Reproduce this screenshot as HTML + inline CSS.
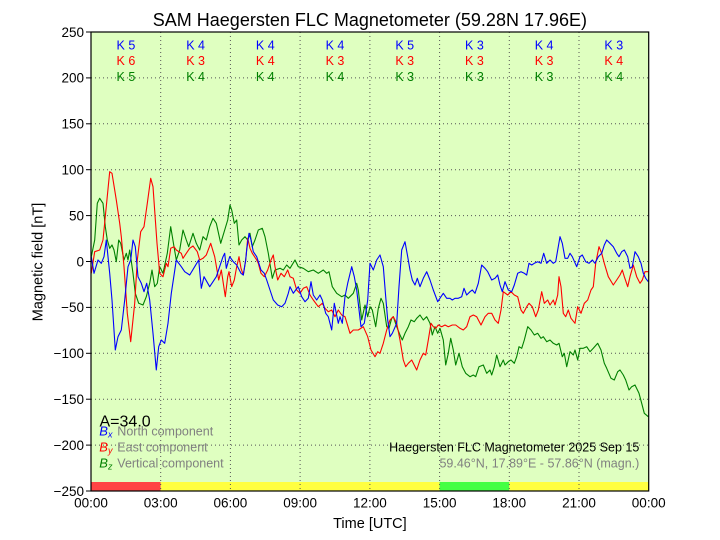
<!DOCTYPE html>
<html><head><meta charset="utf-8"><style>
html,body{margin:0;padding:0;background:#fff;}
svg{display:block;}
text{font-family:"Liberation Sans",Arial,sans-serif;}
</style></head><body>
<svg width="720" height="540" viewBox="0 0 720 540" xmlns="http://www.w3.org/2000/svg">
<rect x="0" y="0" width="720" height="540" fill="#fff"/>
<!-- plot background -->
<rect x="91" y="32" width="557.7" height="459" fill="#dfffc0"/>
<!-- color bar -->
<rect x="91" y="482" width="69.7" height="9" fill="#ff4444"/>
<rect x="160.7" y="482" width="278.9" height="9" fill="#ffff40"/>
<rect x="439.6" y="482" width="69.7" height="9" fill="#44ff44"/>
<rect x="509.3" y="482" width="139.4" height="9" fill="#ffff40"/>
<!-- grid -->
<g stroke="#555" stroke-width="1" stroke-dasharray="1,3" fill="none">
<line x1="91" y1="77.9" x2="648.7" y2="77.9"/>
<line x1="91" y1="123.8" x2="648.7" y2="123.8"/>
<line x1="91" y1="169.7" x2="648.7" y2="169.7"/>
<line x1="91" y1="215.6" x2="648.7" y2="215.6"/>
<line x1="91" y1="261.5" x2="648.7" y2="261.5"/>
<line x1="91" y1="307.4" x2="648.7" y2="307.4"/>
<line x1="91" y1="353.3" x2="648.7" y2="353.3"/>
<line x1="91" y1="399.2" x2="648.7" y2="399.2"/>
<line x1="91" y1="445.1" x2="648.7" y2="445.1"/>
<line x1="160.7" y1="32" x2="160.7" y2="491"/>
<line x1="230.4" y1="32" x2="230.4" y2="491"/>
<line x1="300.1" y1="32" x2="300.1" y2="491"/>
<line x1="369.9" y1="32" x2="369.9" y2="491"/>
<line x1="439.6" y1="32" x2="439.6" y2="491"/>
<line x1="509.3" y1="32" x2="509.3" y2="491"/>
<line x1="579.0" y1="32" x2="579.0" y2="491"/>
</g>
<!-- series -->
<g fill="none" stroke-width="1.1" stroke-linejoin="round">
<polyline stroke="#008000" points="91.3,256.7 94.7,240 97.3,203.3 99.7,198.3 103,203.3 105.3,226.7 107.3,240 109.7,248.3 112,245 114,250 116.3,261.7 118.7,240 120.7,243.3 124,260 126.3,253.3 128,260 129.7,250 133,273.3 135.3,293.3 138.7,303.3 143,305 146.3,296.7 149.7,283.3 152,270 154.7,286.7 157.3,283.3 159.7,266.7 163,273.3 167.3,253.3 170.7,226.7 174,246.7 176.3,260 179.7,250 183,230 186.3,240 188.7,246.7 193,233.3 196.3,243.3 199.7,250 203,236.7 206.3,240 209.7,226.7 213,218.3 216.3,223.3 220.7,243.3 224.7,230 227.7,220 230,205 231.7,210 234.3,223.3 236.7,220 239,245 241.7,240 245,236.7 247.7,240 250,233.3 252.3,246.7 255,240 258.3,230 262.3,228.3 265,236.7 268.3,253.3 272.3,278.3 275,270 280,268.3 283.3,270 286.7,265 290,268.3 295,260 298.3,266.7 303.3,268.3 308.3,271.7 313.3,270 318.3,273.3 323.3,270 326.7,273.3 329,271.7 332.3,286.7 336.7,293.3 341.7,296.7 345,295 348.3,298.3 353.3,293.3 356.7,283.3 358.3,290 361.7,320 365,305 367.7,316.7 370,306.7 372.3,310 375.7,326.7 378.3,308.3 381,298.3 383.3,303.3 386.7,326.7 389,328.3 391.7,318.3 393.3,316.7 396.7,326.7 400,335 402.3,340 405,333.3 408.3,326.7 411,320 414.3,321.7 416.7,318.3 420,315 423.3,320 426.7,316.7 430,323.3 432.3,335 435,326.7 437.7,333.3 440,328.3 443.3,340 445.7,365 448.3,353.3 450.7,338.3 453.3,350 455.7,365 459,353.3 462.3,366.7 465.7,373.3 470,376.7 473.3,375 475.7,376.7 479,366.7 483.3,365 486.7,373.3 490,370 491.7,375 494.3,366.7 496.7,355 500,366.7 503.3,360 505,365 508.3,361.7 511,360 514.3,363.3 516.7,356.7 519,346.7 521.7,348.3 524.3,340 527.7,326.7 531,330 534.3,335 537.7,333.3 541,338.3 543.3,336.7 546.7,341.7 550,340 553.3,343.3 556.7,345 559,343.3 562.3,356.7 564.3,353.3 566.7,366.7 570,351.7 573.3,355 575,350 577.7,360 580,348.3 583.3,348.3 586.7,346.7 590,351.7 593.3,348.3 597.7,343.3 601,350 604.3,363.3 606.7,368.3 611,378.3 614.3,380 617.7,371.7 620,370 623.3,375 625.7,380 629,390 631.7,386.7 635,385 639,393.3 641.7,403.3 644.3,413.3 648.3,416.7"/>
<polyline stroke="#ff0000" points="91.3,273.3 94.7,251.7 99.7,250 103,240 109.7,171.7 112,173.3 114.7,190 116.3,200 119.7,223.3 121.3,236.7 124,266.7 127.3,313.3 130.7,341.7 134.7,303.3 137.3,260 140.7,231.7 144,226.7 147.3,203.3 150.7,178.3 153,186.7 157,243.3 159.7,273.3 163,276.7 166.3,263.3 168,266.7 170.7,248.3 174,246.7 176.3,250 181.3,253.3 183,258.3 186.3,253.3 189.7,248.3 193,246 197.3,251.7 199.7,260 203,258.3 206.3,255 210.7,243.3 214.7,256.7 218.7,280 221.3,270 225.3,296.7 227.7,276.7 229,271.7 231.7,286.7 234.3,280 236.7,266.7 239,256.7 241,268.3 243.3,275 245.7,260 247.7,238.3 250,248.3 252.3,253.3 256.7,260 258.3,263.3 261,273.3 264.3,276.7 267.7,270 271,260 273.3,255 275,266.7 277.7,280 281,273.3 284.3,276.7 287.7,270 290,276.7 293.3,278.3 296.7,290 300,293.3 303.3,288.3 306.7,286.7 310,295 313.3,300 318.3,306.7 322.3,303.3 325,308.3 328.3,311.7 331.7,310 335,316.7 338.3,310 341.7,315 345,316.7 350,333.3 353.3,330 358.3,330 363.3,326.7 367.7,336.7 371,350 375,356.7 377.7,351.7 380,353.3 383.3,343.3 386.7,330 390,320 393.3,316.7 396.7,323.3 400,340 403.3,360 405.7,366.7 408.3,363.3 411.7,360 416.7,370 420,360 423.3,353.3 425.7,355 428.3,340 431,323.3 433.3,326.7 435.7,328.3 438.3,325 441.7,326.7 445,325 448.3,326.7 452.3,325 455.7,325 460,328.3 463.3,330 466.7,326.7 470,316.7 473.3,315 476.7,316.7 481,325 485,316.7 488.3,313.3 491.7,313.3 495,320 498.3,323.3 501,310 503.3,291.7 507.7,295 511,291.7 514.3,295 517.7,296.7 521,310 523.3,313.3 526.7,306.7 529,303.3 532.3,306.7 535.7,316.7 538.3,310 541.7,291.7 544.3,303.3 547.7,300 550,305 553.3,300 555,305 557.7,295 559,276.7 561,286.7 563.3,313.3 565.7,316.7 568.3,310 571,318.3 575,323.3 577.7,306.7 581,313.3 584.3,303.3 587.7,300 591,290 593.3,286.7 595.7,263.3 599,246.7 601.7,253.3 604.3,263.3 608.3,276.7 613.3,285 616.7,280 620,275 622.3,270 624.3,276.7 627.7,286.7 630,276.7 633.3,265 636.7,276.7 640,283.3 642.3,280 645,271.7 648.3,271.7"/>
<polyline stroke="#0000ff" points="91.3,256.7 94,273.3 98,260 101.3,263.3 104,256.7 106.3,240 109.7,273.3 112,300 115.3,350 118,336.7 121.3,330 124.7,300 128,266.7 130.7,260 133,240 135.3,246.7 138,276.7 141.3,283.3 144,291.7 146.7,283.3 149.7,300 153,333.3 156.3,370 158.7,346.7 161.3,340 164.7,343.3 168,323.3 171.3,293.3 176.3,260 181.3,266.7 184.7,271.7 189.7,275 194.7,266.7 198.7,260 201.3,288.3 204,276.7 209.7,286.7 216.3,276.7 223,256.7 224.7,253.3 226.3,268.3 229.7,256.7 233.3,261.7 236.7,265 241,273.3 243.3,275 245.7,260 246.7,250 249,233.3 251,240 253.3,251.7 256.7,256.7 261,270 264.3,273.3 266.7,280 270,290 273.3,300 277.7,305 281.7,306.7 285,303.3 288.3,293.3 290,286.7 293.3,293.3 295.7,290 298.3,286.7 301.7,296.7 305,301.7 308.3,298.3 311,281.7 313.3,295 316.7,300 320,295 322.3,300 325.7,313.3 328.3,316.7 331.7,330 334.3,303.3 338.3,323.3 340,316.7 342.3,323.3 345,296.7 347.7,283.3 351.7,266.7 354.3,276.7 356.7,290 361,326.7 364.3,323.3 367.7,300 370,263.3 373.3,270 376.7,260 380,255 383.3,266.7 385.7,296.7 387.7,320 390,336.7 392.3,333.3 396.7,323.3 399,286.7 401.7,250 405,241.7 407.7,256.7 410,270 412.3,280 415,285 417.3,278.3 420,286.7 423.3,278.3 426.7,271.7 430,280 433.3,290 437.7,301.7 441,296.7 443.3,293.3 446.7,298.3 450,298.3 452.3,300 455,298.3 458.3,298.3 461.7,296.7 464,288.3 466.7,295 470,291.7 472.3,290 475,293.3 478.3,283.3 481.7,265 485,268.3 487.7,271.7 491.7,280 495,278.3 497.7,275 500,285 502.3,291.7 505,281.7 508.3,290 511.7,291.7 514.3,285 517.7,273.3 521,271.7 524.3,273.3 526.7,275 529,263.3 531.7,265 534.3,263.3 537.7,261.7 541,263.3 543.7,253.3 546.7,263.3 550,260 553.3,263.3 555.7,261.7 560,236.7 562.3,243.3 565,258.3 567.7,258.3 570,253.3 572.3,256.7 576.7,266.7 580,256.7 582.3,255 585.7,261.7 589,263.3 592.3,260 595,263.3 598.3,256.7 601.7,253.3 604.3,245 606.7,240 610,243.3 613.3,246.7 616.7,253.3 619,256.7 621.7,251.7 624.3,250 627.7,256.7 630,268.3 632.3,266.7 635,251.7 638.3,256.7 641,263.3 643.3,273.3 645.7,278.3 648.3,281.7"/>
</g>
<!-- K labels -->
<g font-size="12.5" text-anchor="middle">
<g fill="#0000ff">
<text x="125.9" y="49.3">K 5</text><text x="195.6" y="49.3">K 4</text><text x="265.3" y="49.3">K 4</text><text x="335" y="49.3">K 4</text><text x="404.7" y="49.3">K 5</text><text x="474.4" y="49.3">K 3</text><text x="544.1" y="49.3">K 4</text><text x="613.8" y="49.3">K 3</text>
</g>
<g fill="#ff0000">
<text x="125.9" y="65.2">K 6</text><text x="195.6" y="65.2">K 3</text><text x="265.3" y="65.2">K 4</text><text x="335" y="65.2">K 3</text><text x="404.7" y="65.2">K 3</text><text x="474.4" y="65.2">K 3</text><text x="544.1" y="65.2">K 3</text><text x="613.8" y="65.2">K 4</text>
</g>
<g fill="#008000">
<text x="125.9" y="81">K 5</text><text x="195.6" y="81">K 4</text><text x="265.3" y="81">K 4</text><text x="335" y="81">K 4</text><text x="404.7" y="81">K 3</text><text x="474.4" y="81">K 3</text><text x="544.1" y="81">K 3</text><text x="613.8" y="81">K 4</text>
</g>
</g>
<!-- legend -->
<text x="99.5" y="426.5" font-size="16" fill="#000">A=34.0</text>
<g font-size="12.5">
<text x="99.3" y="435.7" fill="#0000ff" font-family="Liberation Serif,serif" font-style="italic" font-size="13">B<tspan font-size="9" dy="2">x</tspan></text>
<text x="117.3" y="435.7" fill="#808080">North component</text>
<text x="99.3" y="451.6" fill="#ff0000" font-family="Liberation Serif,serif" font-style="italic" font-size="13">B<tspan font-size="9" dy="2">y</tspan></text>
<text x="117.3" y="451.6" fill="#808080">East component</text>
<text x="99.3" y="467.5" fill="#008000" font-family="Liberation Serif,serif" font-style="italic" font-size="13">B<tspan font-size="9" dy="2">z</tspan></text>
<text x="117.3" y="467.5" fill="#808080">Vertical component</text>
<text x="639.3" y="451.7" text-anchor="end" fill="#000">Haegersten FLC Magnetometer 2025 Sep 15</text>
<text x="639.3" y="467.5" text-anchor="end" fill="#808080">59.46°N, 17.89°E - 57.86°N (magn.)</text>
</g>
<!-- axes frame -->
<rect x="91" y="32" width="557.7" height="459" fill="none" stroke="#000" stroke-width="1.2"/>
<!-- y ticks -->
<g stroke="#000" stroke-width="1">
<line x1="86" y1="32" x2="91" y2="32"/>
<line x1="86" y1="77.9" x2="91" y2="77.9"/>
<line x1="86" y1="123.8" x2="91" y2="123.8"/>
<line x1="86" y1="169.7" x2="91" y2="169.7"/>
<line x1="86" y1="215.6" x2="91" y2="215.6"/>
<line x1="86" y1="261.5" x2="91" y2="261.5"/>
<line x1="86" y1="307.4" x2="91" y2="307.4"/>
<line x1="86" y1="353.3" x2="91" y2="353.3"/>
<line x1="86" y1="399.2" x2="91" y2="399.2"/>
<line x1="86" y1="445.1" x2="91" y2="445.1"/>
<line x1="86" y1="491" x2="91" y2="491"/>
</g>
<g font-size="13.5" text-anchor="end" fill="#000">
<text x="84" y="36.8">250</text>
<text x="84" y="82.7">200</text>
<text x="84" y="128.6">150</text>
<text x="84" y="174.5">100</text>
<text x="84" y="220.4">50</text>
<text x="84" y="266.3">0</text>
<text x="84" y="312.2">−50</text>
<text x="84" y="358.1">−100</text>
<text x="84" y="404">−150</text>
<text x="84" y="449.9">−200</text>
<text x="84" y="495.8">−250</text>
</g>
<g font-size="13.5" text-anchor="middle" fill="#000">
<text x="91" y="507.5">00:00</text>
<text x="160.7" y="507.5">03:00</text>
<text x="230.4" y="507.5">06:00</text>
<text x="300.1" y="507.5">09:00</text>
<text x="369.9" y="507.5">12:00</text>
<text x="439.6" y="507.5">15:00</text>
<text x="509.3" y="507.5">18:00</text>
<text x="579" y="507.5">21:00</text>
<text x="648.7" y="507.5">00:00</text>
</g>
<text x="369.9" y="528" font-size="14.5" text-anchor="middle" fill="#000">Time [UTC]</text>
<text transform="translate(42.5,262) rotate(-90)" font-size="14.5" text-anchor="middle" fill="#000">Magnetic field [nT]</text>
<text x="369.9" y="26" font-size="18" text-anchor="middle" fill="#000">SAM Haegersten FLC Magnetometer (59.28N 17.96E)</text>
</svg>
</body></html>
